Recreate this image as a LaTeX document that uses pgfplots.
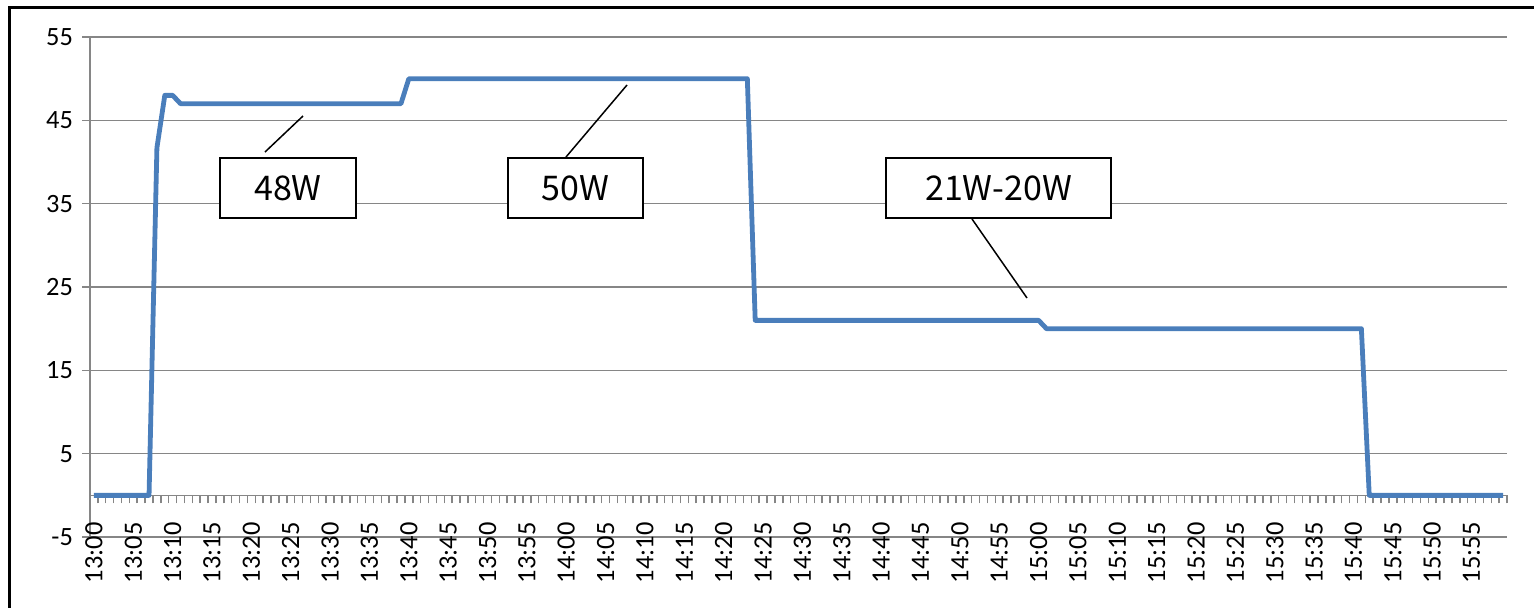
\documentclass[border=0pt]{standalone}
\usepackage{pgfplots}
\pgfplotsset{compat=1.18}
\usepackage{fontspec}
\setmainfont{Carlito}
\newfontfamily\calloutfont{Noto Sans CJK JP}
\definecolor{seriesblue}{RGB}{74,126,187}
\definecolor{gridgray}{RGB}{134,134,134}
\newcommand{\tickfont}{\fontsize{13.2}{15}\selectfont}

\begin{document}
\begin{tikzpicture}
\useasboundingbox (0,0) rectangle (767pt,-303.5pt);
\begin{axis}[
  at={(45pt,-268.5pt)}, anchor=south west,
  scale only axis, width=708.5pt, height=250pt,
  xmin=-0.5, xmax=179.5, ymin=-5, ymax=55,
  axis x line=middle, axis y line=left,
  axis line style={gridgray, line width=0.75pt, -},
  ytick={-5,5,...,55},
  ymajorgrids, grid style={gridgray, line width=0.75pt},
  ytick align=outside, major y tick style={gridgray, line width=0.75pt},
  major tick length=4pt,
  xtick={0,5,...,175},
  xticklabels={13:00,13:05,13:10,13:15,13:20,13:25,13:30,13:35,13:40,13:45,13:50,13:55,
               14:00,14:05,14:10,14:15,14:20,14:25,14:30,14:35,14:40,14:45,14:50,14:55,
               15:00,15:05,15:10,15:15,15:20,15:25,15:30,15:35,15:40,15:45,15:50,15:55},
  minor xtick={-0.5,0.5,...,179.5},
  major x tick style={draw=none},
  minor x tick style={gridgray, line width=0.75pt},
  minor tick length=4pt,
  xtick align=outside,
  /pgf/number format/assume math mode=true,
  tick label style={font=\tickfont},
  xticklabel style={font=\tickfont, text=black, yshift=-6pt, rotate=90, anchor=east},
  yticklabel style={font=\tickfont, text=black, xshift=-1pt},
  clip=false,
]
\addplot[seriesblue, line width=2.4pt, line join=round] coordinates {
  (0,0) (7,0) (8,41.7) (9,48) (10,48) (11,47) (39,47) (40,50)
  (83,50) (84,21) (120,21) (121,20) (161,20) (162,0) (179,0)
};
\end{axis}
\begin{scope}[x=0.5pt, y=-0.5pt]
  % chart frame
  \draw[black, line width=1.5pt] (9,610) -- (9,7) -- (1540,7);
  % callouts
  \draw[black, line width=0.75pt] (265,152) -- (303,116);
  \draw[black, line width=0.75pt] (566,157) -- (627,85);
  \draw[black, line width=0.75pt] (972,219) -- (1027,298);
  \draw[black, line width=1pt, fill=white] (220,158) rectangle (356,218);
  \draw[black, line width=1pt, fill=white] (508,158) rectangle (643,218);
  \draw[black, line width=1pt, fill=white] (886,158) rectangle (1111,218);
  \node[font=\calloutfont\fontsize{17}{20}\selectfont] at (288,188) {48W};
  \node[font=\calloutfont\fontsize{17}{20}\selectfont] at (575.5,188) {50W};
  \node[font=\calloutfont\fontsize{17}{20}\selectfont] at (998.5,188) {21W-20W};
\end{scope}
\end{tikzpicture}
\end{document}
